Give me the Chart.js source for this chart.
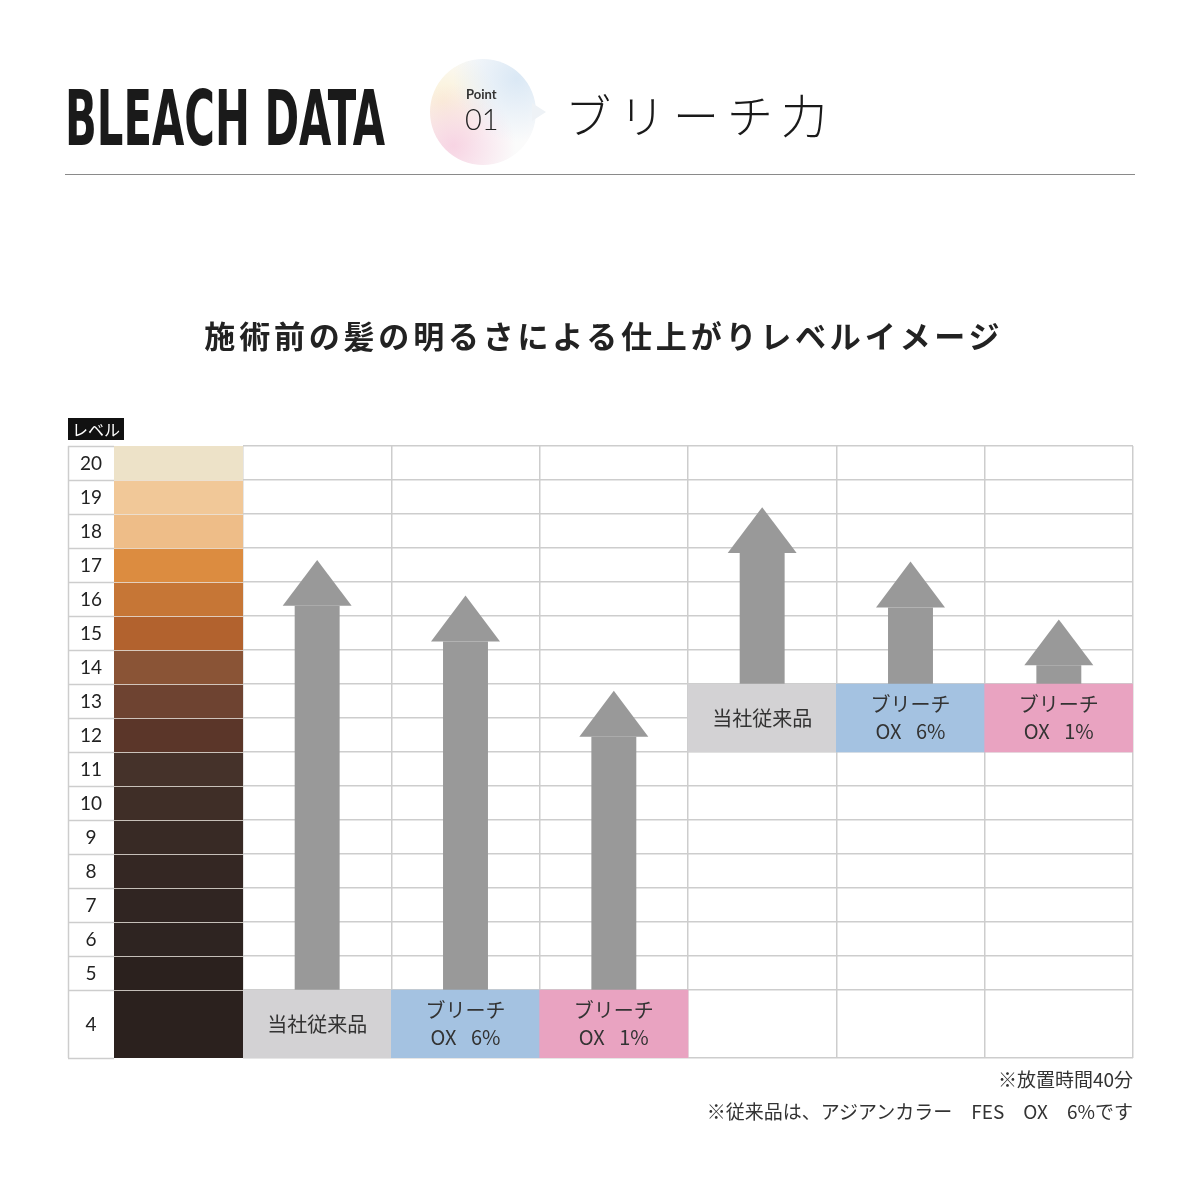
<!DOCTYPE html>
<html lang="ja">
<head>
<meta charset="utf-8">
<script src="https://cdn.jsdelivr.net/npm/chart.js@4/dist/chart.umd.min.js"></script>
<style>
  html, body { margin: 0; padding: 0; background: #ffffff; }
  body { width: 1200px; height: 1200px; position: relative; overflow: hidden; font-family: "Noto Sans CJK JP", "Noto Sans", sans-serif; color: #222; }
  #wrap { position: absolute; left: 0; top: 0; width: 1200px; height: 1200px; }
  .abs { position: absolute; white-space: nowrap; }
  #brand { left: 65px; top: 80px; font-family: "DejaVu Sans Condensed", "DejaVu Sans", sans-serif; font-weight: 700; font-size: 77px; line-height: 77px; color: #1a1a1a; transform-origin: 0 0; letter-spacing: 0px; }
  #badge { left: 430px; top: 59px; width: 106px; height: 106px; border-radius: 50%;
    background:
      radial-gradient(circle at 82% 18%, rgba(218,232,245,1) 0%, rgba(218,232,245,0) 52%),
      radial-gradient(circle at 22% 82%, rgba(247,212,227,1) 0%, rgba(247,212,227,0) 52%),
      radial-gradient(circle at 12% 40%, rgba(251,241,213,1) 0%, rgba(251,241,213,0) 48%),
      #fbfbfb; }
  #pointer { left: 532px; top: 103px; width: 0; height: 0; border-top: 9px solid transparent; border-bottom: 9px solid transparent; border-left: 14px solid #eef2f6; }
  #pt { left: 466px; top: 86px; font-family: Lato, "Open Sans", sans-serif; font-weight: 700; font-size: 13px; line-height: 16px; color: #333; }
  #num { left: 465px; top: 101px; font-family: Lato, "Open Sans", sans-serif; font-weight: 300; font-size: 29px; line-height: 36px; color: #222; }
  #head { left: 565px; top: 90px; font-size: 46px; line-height: 46px; font-weight: 300; letter-spacing: 8px; color: #1a1a1a; }
  #rule { left: 65px; top: 174px; width: 1070px; height: 0; border-top: 1px solid #8a8a8a; }
  #sub { left: 0; width: 1200px; top: 319px; text-align: center; font-size: 31px; line-height: 31px; font-weight: 700; letter-spacing: 3.8px; padding-left: 3.8px; color: #222; }
  #tag { left: 68px; top: 418px; width: 56px; height: 22px; background: #111; color: #fff; font-size: 16px; line-height: 22px; text-align: center; }
  .note { right: 67px; font-size: 19px; line-height: 19px; color: #333; text-align: right; }
  #n1 { top: 1069px; }
  #n2 { top: 1101px; }
</style>
</head>
<body>
<div id="wrap"><canvas id="c" width="1200" height="1200"></canvas></div>
<div class="abs" id="brand">BLEACH DATA</div>
<div class="abs" id="badge"></div>
<div class="abs" id="pointer"></div>
<div class="abs" id="pt">Point</div>
<div class="abs" id="num">01</div>
<div class="abs" id="head">ブリーチ力</div>
<div class="abs" id="rule"></div>
<div class="abs" id="sub">施術前の髪の明るさによる仕上がりレベルイメージ</div>
<div class="abs" id="tag">レベル</div>
<div class="abs note" id="n1">※放置時間40分</div>
<div class="abs note" id="n2">※従来品は、アジアンカラー　FES　OX　6%です</div>
<script>
// ---- data ----
const categories = [
  ['当社従来品'], ['ブリーチ', 'OX\u2002 6%'], ['ブリーチ', 'OX\u2002 1%'],
  ['当社従来品'], ['ブリーチ', 'OX\u2002 6%'], ['ブリーチ', 'OX\u2002 1%']
];
const boxFrom = [2.5, 2.5, 2.5, 11.5, 11.5, 11.5];
const boxTo   = [4.5, 4.5, 4.5, 13.5, 13.5, 13.5];
const arrowTips = [17.15, 16.1, 13.3, 18.7, 17.1, 15.4];
const boxColors = ['#d3d2d4', '#a4c2e1', '#e9a3c1', '#d3d2d4', '#a4c2e1', '#e9a3c1'];
const levels = [20, 19, 18, 17, 16, 15, 14, 13, 12, 11, 10, 9, 8, 7, 6, 5, 4];
const levelColors = ['#ede2c8', '#f1c898', '#eebd88', '#dc8c40', '#c67636', '#b2622e', '#8a5436', '#6e4331',
  '#5b3629', '#45322a', '#3f2e27', '#382a25', '#342723', '#302522', '#2e2421', '#2b211e', '#2b211e'];
const gridValues = [2.5, 4.5, 5.5, 6.5, 7.5, 8.5, 9.5, 10.5, 11.5, 12.5, 13.5, 14.5, 15.5, 16.5, 17.5, 18.5, 19.5, 20.5];

// ---- styles ----
const HEAD_LEN = 1.35;      // arrow head length in level units
const HEAD_FRAC = 0.465;    // arrow head width as fraction of a column
const GRID = '#cdcdcd';
const LABEL_LEFT = 68, SWATCH_LEFT = 114;

const sidePlugin = {
  id: 'side',
  afterDraw(chart) {
    const ctx = chart.ctx, y = chart.scales.y, area = chart.chartArea;
    ctx.save();
    levels.forEach((lv, i) => {
      const v0 = lv === 4 ? 2.5 : lv - 0.5, v1 = lv + 0.5;
      const t = y.getPixelForValue(v1), b = y.getPixelForValue(v0);
      ctx.fillStyle = levelColors[i];
      ctx.fillRect(SWATCH_LEFT, t, area.left - SWATCH_LEFT, b - t);
    });
    ctx.strokeStyle = GRID; ctx.lineWidth = 1.5;
    gridValues.forEach(v => {
      const py = Math.round(y.getPixelForValue(v)) + 0.5;
      ctx.beginPath(); ctx.moveTo(LABEL_LEFT, py); ctx.lineTo(SWATCH_LEFT, py); ctx.stroke();
    });
    ctx.strokeStyle = 'rgba(235,230,222,0.8)'; ctx.lineWidth = 1.2;
    gridValues.slice(1, -1).forEach(v => {
      const py = Math.round(y.getPixelForValue(v)) + 0.5;
      ctx.beginPath(); ctx.moveTo(SWATCH_LEFT, py); ctx.lineTo(area.left, py); ctx.stroke();
    });
    ctx.strokeStyle = GRID; ctx.lineWidth = 1.5;
    ctx.beginPath();
    ctx.moveTo(LABEL_LEFT + 0.5, y.getPixelForValue(20.5)); ctx.lineTo(LABEL_LEFT + 0.5, y.getPixelForValue(2.5));
    ctx.stroke();
    ctx.fillStyle = '#222'; ctx.font = '19px Lato, "Noto Sans", sans-serif';
    ctx.textAlign = 'center'; ctx.textBaseline = 'middle';
    levels.forEach(lv => {
      const vc = lv === 4 ? 3.5 : lv;
      ctx.fillText(String(lv), (LABEL_LEFT + SWATCH_LEFT) / 2, y.getPixelForValue(vc) + 1);
    });
    ctx.restore();
  },
  afterDatasetsDraw(chart) {
    const ctx = chart.ctx, x = chart.scales.x, y = chart.scales.y;
    const colW = (chart.chartArea.right - chart.chartArea.left) / categories.length;
    ctx.save();
    ctx.fillStyle = '#999999';
    arrowTips.forEach((tip, i) => {
      const cx = x.getPixelForValue(i);
      const ty = y.getPixelForValue(tip), by = y.getPixelForValue(tip - HEAD_LEN);
      const hw = colW * HEAD_FRAC / 2;
      ctx.beginPath(); ctx.moveTo(cx, ty); ctx.lineTo(cx + hw, by); ctx.lineTo(cx - hw, by); ctx.closePath(); ctx.fill();
    });
    ctx.fillStyle = '#333'; ctx.font = '20px "Noto Sans CJK JP", sans-serif';
    ctx.textAlign = 'center'; ctx.textBaseline = 'middle';
    categories.forEach((lines, i) => {
      const cx = x.getPixelForValue(i);
      const cy = y.getPixelForValue((boxFrom[i] + boxTo[i]) / 2);
      const lh = 27;
      lines.forEach((ln, k) => {
        ctx.fillText(ln, cx, cy + (k - (lines.length - 1) / 2) * lh);
      });
    });
    ctx.restore();
  }
};

new Chart(document.getElementById('c'), {
  type: 'bar',
  data: {
    labels: categories,
    datasets: [
      { label: 'before', data: boxFrom.map((f, i) => [f, boxTo[i]]), backgroundColor: boxColors,
        barPercentage: 1, categoryPercentage: 1, grouped: false, borderWidth: 0 },
      { label: 'after', data: boxTo.map((t, i) => [t, arrowTips[i] - HEAD_LEN]), backgroundColor: '#999999',
        barPercentage: 0.303, categoryPercentage: 1, grouped: false, borderWidth: 0 }
    ]
  },
  options: {
    responsive: false, animation: false, devicePixelRatio: 1,
    layout: { padding: { left: 243, right: 67, top: 446, bottom: 142 } },
    plugins: { legend: { display: false }, tooltip: { enabled: false } },
    scales: {
      x: { offset: true, grid: { offset: true, color: GRID, lineWidth: 1.5, drawTicks: false },
           border: { display: false }, ticks: { display: false }, afterFit: s => { s.height = 0; } },
      y: { min: 2.5, max: 20.5, grid: { color: GRID, lineWidth: 1.5, drawTicks: false },
           border: { display: false }, ticks: { display: false },
           afterBuildTicks: s => { s.ticks = gridValues.map(v => ({ value: v })); },
           afterFit: s => { s.width = 0; } }
    }
  },
  plugins: [sidePlugin]
});

const brand = document.getElementById('brand');
const w = brand.getBoundingClientRect().width;
brand.style.transform = 'scale(' + (320 / w) + ', 1)';
</script>
</body>
</html>
